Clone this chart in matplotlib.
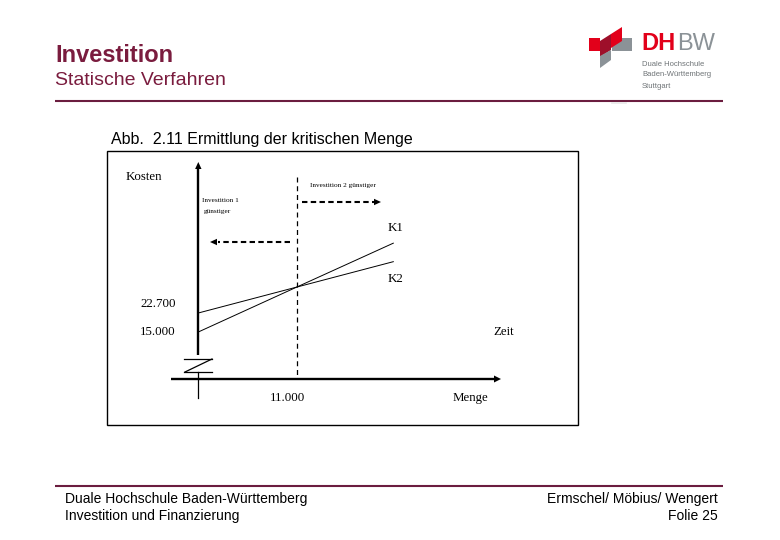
import matplotlib
matplotlib.use('Agg')
import matplotlib.pyplot as plt
from matplotlib.patches import Polygon, Rectangle
from matplotlib.transforms import blended_transform_factory

# ---- data ----
menge = [0, 11000, 21800]          # quantity
k1 = [15000, 33200, 51000]         # cost curve K1
k2 = [22700, 33200, 43500]         # cost curve K2
krit_menge = 11000                 # critical quantity
y_tick_labels = ['22.700', '15.000']
x_tick_labels = ['11.000']
curve_labels = ['K1', 'K2']

W, H = 780, 540
fig = plt.figure(figsize=(7.8, 5.4), dpi=100)
fig.patch.set_facecolor('white')

# pixel overlay axes for slide layout
px = fig.add_axes([0, 0, 1, 1])
px.set_xlim(0, W)
px.set_ylim(H, 0)
px.axis('off')

# data axes for the diagram (Menge vs. Kosten)
ax = fig.add_axes([0, 0, 1, 1])
ax.patch.set_alpha(0)
ax.axis('off')
x0_px, xk_px = 198.3, 296.7
sx = krit_menge / (xk_px - x0_px)            # units per pixel
y15_px, y22_px = 332.0, 313.0
sy = (22700 - 15000) / (y15_px - y22_px)
ax.set_xlim(-x0_px * sx, (W - x0_px) * sx)
ax.set_ylim(15000 - (H - y15_px) * sy, 15000 + y15_px * sy)

SANS = 'Liberation Sans'
SERIF = 'Liberation Serif'
MAROON = '#7a1c3e'
LINE = '#6b1d3f'

# ---- header ----
px.text(55, 62, 'Investition', fontsize=17, fontweight='bold', color=MAROON,
        family=SANS, va='baseline', ha='left')
px.text(55, 85, 'Statische Verfahren', fontsize=14, color=MAROON,
        family=SANS, va='baseline', ha='left')
px.plot([55, 723], [101, 101], color=LINE, lw=1.5, solid_capstyle='butt')
px.plot([612, 626], [103, 103], color='#e8e8e8', lw=1.2)

# ---- logo ----
px.add_patch(Polygon([(612, 38), (632, 38), (632, 51), (612, 51)], closed=True,
                     color='#8b9297', lw=0))
px.add_patch(Polygon([(589, 38), (600, 38), (600, 51), (589, 51)], closed=True,
                     color='#e2001a', lw=0))
px.add_patch(Polygon([(611, 34), (622, 27), (622, 41), (611, 48)], closed=True,
                     color='#e2001a', lw=0))
px.add_patch(Polygon([(600, 41), (611, 34), (611, 50), (600, 57)], closed=True,
                     color='#9e0f2a', lw=0))
px.add_patch(Polygon([(600, 56), (611, 50), (611, 60), (600, 68)], closed=True,
                     color='#8b9297', lw=0))
px.text(641, 50, 'DH', fontsize=17, fontweight='bold', color='#e2001a',
        family=SANS, va='baseline', ha='left')
px.text(677, 50, 'BW', fontsize=17, color='#8b9297',
        family=SANS, va='baseline', ha='left')
for t, yy in [('Duale Hochschule', 66), ('Baden-Württemberg', 76), ('Stuttgart', 88)]:
    px.text(642, yy, t, fontsize=5.5, color='#6f7477', family=SANS,
            va='baseline', ha='left')

# ---- figure title & frame ----
px.text(111, 144, 'Abb.  2.11 Ermittlung der kritischen Menge', fontsize=11.5,
        color='black', family=SANS, va='baseline', ha='left')
px.add_patch(Rectangle((107, 151), 471, 274, fill=False, ec='black', lw=1.0))

# ---- axes of the diagram ----
def head(tip, direction, length=7, half=3.5, lw=0):
    x, y = tip
    dx, dy = direction
    bx, by = x - dx * length, y - dy * length
    nx, ny = -dy, dx
    px.add_patch(Polygon([(x, y), (bx + nx * half, by + ny * half),
                          (bx - nx * half, by - ny * half)], closed=True,
                         color='black', lw=lw))

# y axis (thick, with arrow) and lower thin part
px.plot([x0_px, x0_px], [355, 168], color='black', lw=1.7, solid_capstyle='butt')
head((x0_px, 162), (0, -1), length=7, half=3.2)
px.plot([x0_px, x0_px], [372, 398], color='black', lw=0.9)
# axis break symbol
px.plot([184, 212], [359, 359], color='black', lw=0.9)
px.plot([212, 185], [359, 372], color='black', lw=0.9)
px.plot([184, 212], [372, 372], color='black', lw=0.9)
# x axis
px.plot([171, 495], [379, 379], color='black', lw=1.7, solid_capstyle='butt')
head((501, 379), (1, 0), length=7, half=3.5)

# critical quantity dashed line
bt = blended_transform_factory(ax.transData, px.transData)
ax.plot([krit_menge, krit_menge], [177, 379], transform=bt, color='black',
        lw=0.9, linestyle=(0, (4, 3)))

# cost curves
ax.plot(menge, k1, color='black', lw=0.7)
ax.plot(menge, k2, color='black', lw=0.7)

# dashed arrows
px.plot([302, 374], [202, 202], color='black', lw=1.5, linestyle=(0, (2.6, 1.6)))
head((381, 202), (1, 0), length=7, half=3.2)
px.plot([290, 218], [242, 242], color='black', lw=1.5, linestyle=(0, (2.6, 1.6)))
head((210, 242), (-1, 0), length=7, half=3.2)

# ---- diagram labels ----
fs = 9.3
px.text(126, 177, 'Kosten', fontsize=fs, family=SERIF, va='center', ha='left')
px.text(310, 186, 'Investition 2 günstiger', fontsize=5.2, family=SERIF,
        va='center', ha='left')
px.text(202, 201, 'Investition 1', fontsize=5.2, family=SERIF, va='center', ha='left')
px.text(204, 212, 'günstiger', fontsize=5.2, family=SERIF, va='center', ha='left')
px.text(388, 228, curve_labels[0], fontsize=fs, family=SERIF, va='center', ha='left')
px.text(388, 279, curve_labels[1], fontsize=fs, family=SERIF, va='center', ha='left')
px.text(140, 304, y_tick_labels[0], fontsize=fs, family=SERIF, va='center', ha='left')
px.text(140, 332, y_tick_labels[1], fontsize=fs, family=SERIF, va='center', ha='left')
px.text(493, 332, 'Zeit', fontsize=fs, family=SERIF, va='center', ha='left')
px.text(287, 398, x_tick_labels[0], fontsize=fs, family=SERIF, va='center', ha='center')
px.text(453, 398, 'Menge', fontsize=fs, family=SERIF, va='center', ha='left')

# ---- footer ----
px.plot([55, 723], [486, 486], color=LINE, lw=1.5, solid_capstyle='butt')
px.text(65, 503.5, 'Duale Hochschule Baden-Württemberg', fontsize=10,
        family=SANS, va='baseline', ha='left')
px.text(65, 520, 'Investition und Finanzierung', fontsize=10,
        family=SANS, va='baseline', ha='left')
px.text(718, 503.5, 'Ermschel/ Möbius/ Wengert', fontsize=10,
        family=SANS, va='baseline', ha='right')
px.text(718, 520, 'Folie 25', fontsize=10, family=SANS, va='baseline', ha='right')

fig.savefig('out.png', dpi=100, facecolor='white')
